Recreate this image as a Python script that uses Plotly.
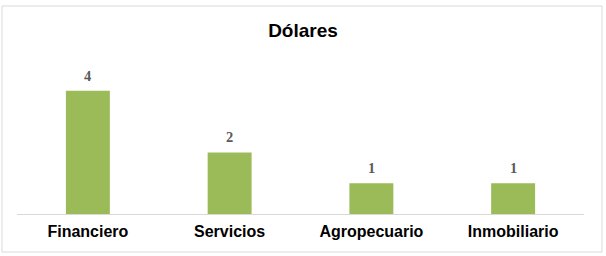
import plotly.graph_objects as go

categories = ["Financiero", "Servicios", "Agropecuario", "Inmobiliario"]
values = [4, 2, 1, 1]

W, H = 606, 256
ml, mr, mt, mb = 17, 22, 60, 42
pw, ph = W - ml - mr, H - mt - mb

def px(x):
    return (x - ml) / pw

def py(y):
    return (H - mb - y) / ph

fig = go.Figure(go.Bar(
    x=categories, y=values, width=0.31,
    marker=dict(color="#9bbb59", line=dict(width=0)),
    cliponaxis=False,
))

annotations = [
    dict(x=c, y=v, xref="x", yref="y", text=f"<b>{v}</b>", showarrow=False,
         yanchor="bottom", yshift=5,
         font=dict(family="Liberation Serif", size=14.5, color="#595959"))
    for c, v in zip(categories, values)
]

fig.update_layout(
    width=W, height=H,
    margin=dict(l=ml, r=mr, t=mt, b=mb),
    paper_bgcolor="white", plot_bgcolor="white",
    showlegend=False,
    title=dict(text="<b>Dólares</b>", x=0.5, xanchor="center", y=1 - 30 / H, yanchor="middle",
               font=dict(family="Liberation Sans", size=19, color="black")),
    xaxis=dict(showline=True, linecolor="#d9d9d9", linewidth=1, ticks="", showgrid=False,
               tickfont=dict(family="Liberation Sans", size=16, color="black", weight="bold"),
               ticklabelstandoff=3),
    yaxis=dict(range=[0, 5], visible=False, showgrid=False),
    annotations=annotations,
    shapes=[dict(type="rect", xref="paper", yref="paper",
                 x0=px(2), x1=px(602), y0=py(6), y1=py(252),
                 line=dict(color="#d9d9d9", width=1), fillcolor="rgba(0,0,0,0)", layer="below")],
    font=dict(family="Liberation Sans"),
)

fig.write_html("out.html")
